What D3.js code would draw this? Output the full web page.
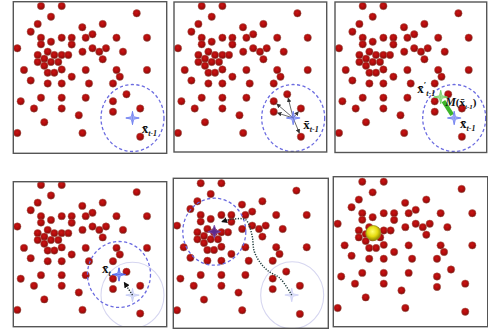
<!DOCTYPE html>
<html><head><meta charset="utf-8">
<script src="https://cdn.jsdelivr.net/npm/d3@7"></script>
<style>body{margin:0;background:#fff}svg{display:block}</style>
</head><body>
<script>
// Data points (shared by all six panels), in panel units
const pointsX = [28,48.7,38,123.7,24.7,89.7,17.7,69.3,28,48.7,58.7,72.7,79.5,103.5,134,28,38,58.7,4.3,69.5,79.5,86.3,93,110,24.7,34.7,41.3,48.7,55.3,89.7,24.7,31.3,38,45.3,31.3,11,48.7,34.7,41.3,72.7,103.5,134,58.7,106.8,17.7,34.7,48.7,76,100,113.5,7.7,28,48.7,72.7,100,21,48.7,100,127.2,65.8,31.3,4.3,69.5,127.2];
const pointsY = [4,4,14.7,11.3,22,22,29.7,25.3,35.7,35.7,35.7,35.7,32.3,35.7,35.7,42.3,39.7,42.5,46.3,49.7,46.3,49.7,46.3,49.7,53,49.7,53,53,53,57.3,60,56.7,60,60,63.7,68,67.5,70.7,70.7,68,68,68,74.7,74.7,78.5,81.5,81.5,81.5,81.5,92.3,99.3,95.7,95.7,95.7,99.3,106.5,106.5,109.8,106.5,113.3,120.3,131,131,134.7];
// Mean-shift states
const startCenter = [119.5, 116];     // x̄_{t-1}
const shiftedCenter = [106, 95];      // x̄'_{t-1} / x̄_t
const bandwidth = [31.5, 33.5];
const modeStar = [41.6, 52.4];
const modeBall = [38.6, 55.6];
const trajX = [119, 107.3, 96, 88, 81.5, 79.6, 75.6, 72.3, 59, 49];
const trajY = [115.7, 99, 92, 84, 72, 57.4, 44, 40, 40, 42.4];
const labels = {xPrev:"t-1", xNew:"t"};

const W = 488, H = 331;
const svg = d3.select("body").append("svg").attr("width", W).attr("height", H);
const defs = svg.append("defs");
const rg = defs.append("radialGradient").attr("id","dot").attr("cx","45%").attr("cy","40%").attr("r","60%");
rg.append("stop").attr("offset","0%").attr("stop-color","#cc1414");
rg.append("stop").attr("offset","70%").attr("stop-color","#a60a0a");
rg.append("stop").attr("offset","100%").attr("stop-color","#6a0808");
const yg = defs.append("radialGradient").attr("id","ball").attr("cx","45%").attr("cy","40%").attr("r","60%");
yg.append("stop").attr("offset","0%").attr("stop-color","#ffff70");
yg.append("stop").attr("offset","55%").attr("stop-color","#e6dc10");
yg.append("stop").attr("offset","100%").attr("stop-color","#8c8400");
function marker(id, color, size){
  defs.append("marker").attr("id",id).attr("viewBox","0 0 10 10").attr("refX",9).attr("refY",5)
    .attr("markerWidth",size).attr("markerHeight",size).attr("orient","auto").attr("markerUnits","userSpaceOnUse")
    .append("path").attr("d","M0,0L10,5L0,10Z").attr("fill",color);
}
marker("arrG","#333",4.5);
marker("arrK","#111",6);

const panels = [
 {frame:[13.3,1.7,166.7,153.3], px:13,    py:2,     kx:1,     ky:1},
 {frame:[174,2,326.7,152],      px:173.7, py:2,     kx:1,     ky:1},
 {frame:[335,2,486.7,152.5],    px:334.7, py:2,     kx:1,     ky:1},
 {frame:[13.3,181.7,166.7,326.7], px:13,  py:181,   kx:1,     ky:0.984},
 {frame:[173.3,178.3,328.3,328.3], px:172.7, py:179.3, kx:1,  ky:1},
 {frame:[333.3,176.7,487.7,326.7], px:333.2, py:177.7, kx:1.038, ky:0.995}
];

function star4(ro, ri){
  const pts=[];
  for(let i=0;i<8;i++){const a=i*Math.PI/4 - Math.PI/2; const r=i%2?ri:ro; pts.push([r*Math.cos(a), r*Math.sin(a)]);}
  return "M"+pts.map(p=>p.join(",")).join("L")+"Z";
}
function cross(g, x, y, color, opacity){
  const c = g.append("g").attr("transform",`translate(${x},${y})`).attr("opacity",opacity);
  c.append("path").attr("d",star4(6.5,1.8)).attr("fill",color).attr("fill-opacity",0.45).attr("stroke",color).attr("stroke-width",0.8);
  c.append("path").attr("d","M-7,0H7M0,-7V7").attr("stroke",color).attr("stroke-width",0.7);
}
function xlabel(g, x, y, sub, prime){
  const t = g.append("text").attr("x",x).attr("y",y).attr("font-family","'Liberation Serif','DejaVu Serif',serif")
    .attr("font-weight","bold").attr("fill","#111");
  t.append("tspan").attr("font-size",13).text("x\u0304");
  if(prime) t.append("tspan").attr("font-size",9).attr("dy",-5).text("\u2032");
  t.append("tspan").attr("font-size",8).attr("font-style","italic").attr("dy",prime?8:3).text(sub);
  return t;
}

panels.forEach((p,i)=>{
  const x = d3.scaleLinear().domain([0,150]).range([p.px, p.px+150*p.kx]);
  const y = d3.scaleLinear().domain([0,150]).range([p.py, p.py+150*p.ky]);
  const [fx0,fy0,fx1,fy1] = p.frame;
  defs.append("clipPath").attr("id","clip"+i).append("rect").attr("x",fx0).attr("y",fy0).attr("width",fx1-fx0).attr("height",fy1-fy0);
  const g = svg.append("g");
  const gc = g.append("g").attr("clip-path",`url(#clip${i})`);
  const ell = (c, style) => gc.append("ellipse").attr("cx",x(c[0])).attr("cy",y(c[1]))
      .attr("rx",bandwidth[0]*p.kx).attr("ry",bandwidth[1]*p.ky).attr("fill","none").call(style);
  const dashed = s=>s.attr("stroke","#6b6be0").attr("stroke-width",1.3).attr("stroke-dasharray","3.2,2.4");
  const faint = s=>s.attr("stroke","#d6d6f0").attr("stroke-width",1.1);

  if(i===3){ ell(startCenter, faint); }
  if(i===4){ ell(startCenter, faint); }

  const pts = pointsX.map((v,k)=>[v,pointsY[k]]);
  gc.append("g").selectAll("circle").data(pts).join("circle")
    .attr("cx",d=>x(d[0])).attr("cy",d=>y(d[1])).attr("r",3.7)
    .attr("fill","url(#dot)").attr("stroke","#b06a5a").attr("stroke-opacity",0.55).attr("stroke-width",0.9);

  if(i<=2){ ell(startCenter, dashed); }
  if(i===0){
    cross(gc, x(startCenter[0]), y(startCenter[1]), "#6f7ff0", 1);
    xlabel(gc, x(128.7), y(131), labels.xPrev);
  }
  if(i===1){
    const cx0=x(startCenter[0]), cy0=y(startCenter[1]);
    const inside = pts.filter(d=>Math.pow((d[0]-startCenter[0])/bandwidth[0],2)+Math.pow((d[1]-startCenter[1])/bandwidth[1],2)<1);
    inside.forEach(d=>{
      const tx=x(d[0]), ty=y(d[1]); const dx=tx-cx0, dy=ty-cy0, L=Math.hypot(dx,dy);
      gc.append("line").attr("x1",cx0).attr("y1",cy0).attr("x2",tx-dx/L*3.9).attr("y2",ty-dy/L*3.9)
        .attr("stroke","#444").attr("stroke-width",0.8).attr("marker-end","url(#arrG)");
    });
    cross(gc, cx0, cy0, "#6f7ff0", 1);
    xlabel(gc, x(129.6), y(126.5), labels.xPrev);
  }
  if(i===2){
    const cx0=x(startCenter[0]), cy0=y(startCenter[1]), cx1=x(shiftedCenter[0]), cy1=y(shiftedCenter[1]);
    const dx=cx1-cx0, dy=cy1-cy0;
    gc.append("line").attr("x1",cx0+dx*0.15).attr("y1",cy0+dy*0.15).attr("x2",cx0+dx*0.8).attr("y2",cy0+dy*0.8)
      .attr("stroke","#3db52a").attr("stroke-width",4.2);
    cross(gc, cx0, cy0, "#6f7ff0", 1);
    cross(gc, cx1, cy1, "#6fd060", 1);
    xlabel(gc, x(82.6), y(91), labels.xPrev, true);
    const m = gc.append("text").attr("x",x(110.5)).attr("y",y(104)).attr("font-family","'Liberation Serif','DejaVu Serif',serif")
      .attr("font-weight","bold").attr("font-style","italic").attr("fill","#111");
    m.append("tspan").attr("font-size",12).text("M");
    m.append("tspan").attr("font-size",11).attr("font-style","normal").text("(x\u0304");
    m.append("tspan").attr("font-size",7).attr("dy",3).text(labels.xPrev);
    m.append("tspan").attr("font-size",11).attr("font-style","normal").attr("dy",-3).text(")");
    xlabel(gc, x(125.3), y(126), labels.xPrev);
  }
  if(i===3){
    ell(shiftedCenter, dashed);
    cross(gc, x(startCenter[0]), y(startCenter[1]), "#b8c0f4", 0.8);
    const cx0=x(startCenter[0]), cy0=y(startCenter[1]), cx1=x(shiftedCenter[0]), cy1=y(shiftedCenter[1]);
    gc.append("line").attr("x1",cx0).attr("y1",cy0).attr("x2",cx0+(cx1-cx0)*0.62).attr("y2",cy0+(cy1-cy0)*0.62)
      .attr("stroke","#1e2e2e").attr("stroke-width",1.4).attr("stroke-dasharray","1.3,1.3").attr("marker-end","url(#arrK)");
    cross(gc, cx1, cy1, "#4a62ee", 1);
    xlabel(gc, x(89), y(93.5), labels.xNew);
  }
  if(i===4){
    ell(modeStar, dashed);
    cross(gc, x(trajX[0]), y(trajY[0]), "#c4c8f4", 0.8);
    const line = d3.line().x((d,k)=>x(trajX[k])).y((d,k)=>y(trajY[k])).curve(d3.curveCatmullRom);
    gc.append("path").attr("d",line(trajX)).attr("fill","none").attr("stroke","#1e3a3a").attr("stroke-width",1.5)
      .attr("stroke-dasharray","1.2,1.4").attr("marker-end","url(#arrK)");
    gc.append("path").attr("transform",`translate(${x(modeStar[0])},${y(modeStar[1])})`).attr("d",star4(6.5,2.4))
      .attr("fill","#5e2a8c").attr("stroke","#7a4aa8").attr("stroke-width",0.8);
  }
  if(i===5){
    gc.append("circle").attr("cx",x(modeBall[0])).attr("cy",y(modeBall[1])).attr("r",7.5)
      .attr("fill","url(#ball)").attr("stroke","#9a9420").attr("stroke-width",0.8);
  }
  g.append("rect").attr("x",fx0).attr("y",fy0).attr("width",fx1-fx0).attr("height",fy1-fy0)
    .attr("fill","none").attr("stroke","#555").attr("stroke-width",1.4);
});
</script>
</body></html>
